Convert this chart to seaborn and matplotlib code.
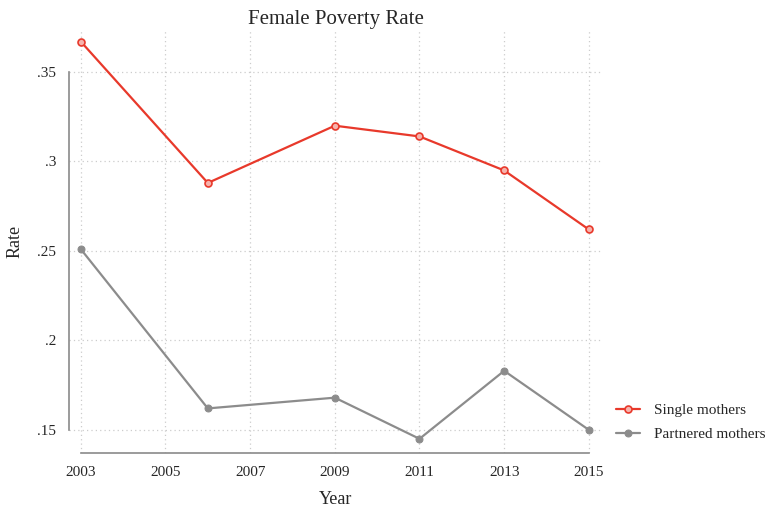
import pandas as pd
import matplotlib.pyplot as plt
import matplotlib
import seaborn as sns

# ── Data ─────────────────────────────────────────────────────────────────────
years = [2003, 2006, 2009, 2011, 2013, 2015]
single_mothers = [0.367, 0.288, 0.320, 0.314, 0.295, 0.262]
partnered_mothers = [0.251, 0.162, 0.168, 0.145, 0.183, 0.150]
x_ticks = [2003, 2005, 2007, 2009, 2011, 2013, 2015]
y_ticks = [0.15, 0.20, 0.25, 0.30, 0.35]
y_tick_labels = [".15", ".2", ".25", ".3", ".35"]

sns.set_style("white")
matplotlib.rcParams.update({
    "font.family": ["Liberation Serif", "DejaVu Serif"],
    "font.size": 11,
})

RED = "#e8392b"
GREY = "#8c8c8c"
SPINE = "#8a8a8a"

df = pd.DataFrame({
    "Year": years * 2,
    "Rate": single_mothers + partnered_mothers,
    "Group": ["Single mothers"] * len(years) + ["Partnered mothers"] * len(years),
})

fig = plt.figure(figsize=(7.68, 5.08), dpi=100)
ax = fig.add_axes([0.0898, 0.108, 0.694, 0.833])

sns.lineplot(data=df[df.Group == "Single mothers"], x="Year", y="Rate", ax=ax,
             color=RED, linewidth=1.6, marker="o", markersize=5,
             markerfacecolor="#f6b3ad", markeredgecolor=RED, markeredgewidth=1.2,
             label="Single mothers")
sns.lineplot(data=df[df.Group == "Partnered mothers"], x="Year", y="Rate", ax=ax,
             color=GREY, linewidth=1.6, marker="o", markersize=5,
             markerfacecolor=GREY, markeredgecolor=GREY,
             label="Partnered mothers")

ax.set_xlim(2002.72, 2015.31)
ax.set_ylim(0.137, 0.3735)
ax.set_xticks(x_ticks)
ax.set_xticklabels([str(y) for y in x_ticks])
ax.set_yticks(y_ticks)
ax.set_yticklabels(y_tick_labels)

ax.grid(True, color="#cccccc", linestyle=(0, (1, 2.5)), linewidth=0.9)
for s in ["top", "right"]:
    ax.spines[s].set_visible(False)
ax.spines["left"].set_bounds(0.15, 0.35)
ax.spines["bottom"].set_bounds(2003, 2015)
for s in ["left", "bottom"]:
    ax.spines[s].set_color(SPINE)
    ax.spines[s].set_linewidth(1.2)
ax.tick_params(axis="both", direction="out", length=5, width=1.2, color=SPINE,
               labelsize=11, pad=4)

ax.set_xlabel("Year", fontsize=13, labelpad=9)
ax.set_ylabel("Rate", fontsize=13, labelpad=10)
ax.set_title("Female Poverty Rate", fontsize=15, pad=4.5)

ax.legend(loc="center left", bbox_to_anchor=(1.0, 0.073), frameon=False,
          fontsize=11, handlelength=1.6, handletextpad=0.9, labelspacing=0.7)

fig.savefig("out.png", dpi=100, facecolor="white")
